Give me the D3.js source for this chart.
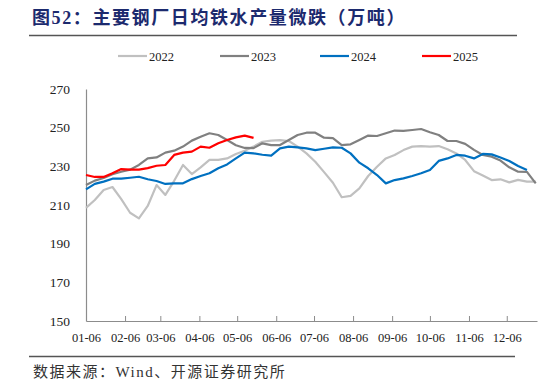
<!DOCTYPE html>
<html>
<head>
<meta charset="utf-8">
<script src="https://cdn.jsdelivr.net/npm/d3@7"></script>
<style>
  body { margin: 0; background: #fff; }
  .chart svg { display: block; }
</style>
</head>
<body>
<div class="chart"></div>
<script>
// weekly data, first week 01-06
var years = ["2022", "2023", "2024", "2025"];
var colors = ["#c0c0c0", "#808080", "#0070c0", "#ff0000"];

var v2022 = [208.5, 212.6, 217.8, 219.3, 213.0, 206.0, 203.1, 209.5, 220.3, 215.2,
  222.5, 230.7, 226.0, 229.5, 233.3, 233.3, 234.1, 236.4, 238.1, 240.2,
  242.7, 243.3, 243.6, 243.1, 240.2, 236.7, 232.4, 227.0, 221.5, 214.0,
  214.7, 218.6, 225.0, 229.8, 234.1, 235.9, 238.4, 240.2, 240.5, 240.2,
  240.5, 238.8, 236.7, 233.3, 227.5, 225.3, 222.9, 223.3, 221.7, 223.0,
  222.1, 222.1];
var v2023 = [220.3, 222.6, 224.0, 225.9, 227.2, 228.3, 230.7, 234.1, 234.6, 237.1,
  238.1, 240.2, 243.3, 245.3, 247.1, 246.2, 243.6, 240.9, 239.5, 239.4,
  241.9, 241.0, 241.0, 243.6, 246.2, 247.4, 247.4, 244.8, 244.6, 241.0,
  241.4, 243.6, 245.9, 245.7, 247.1, 248.5, 248.3, 248.8, 249.3, 247.6,
  246.2, 243.1, 243.1, 241.6, 238.5, 235.9, 235.0, 233.0, 229.5, 227.2,
  227.1, 221.2];
var v2024 = [218.1, 220.9, 222.1, 223.6, 223.6, 224.1, 224.6, 223.3, 222.4, 220.9,
  221.2, 221.2, 223.4, 225.0, 226.4, 229.0, 231.0, 234.1, 237.1, 236.7,
  236.0, 235.5, 239.3, 240.2, 239.8, 239.3, 238.4, 239.1, 239.8, 239.6,
  236.7, 231.9, 229.0, 225.5, 221.2, 222.9, 223.8, 225.0, 226.4, 228.1,
  232.8, 234.1, 235.9, 235.5, 234.1, 236.4, 236.2, 234.6, 232.8, 230.2,
  228.1];
var v2025 = [225.5, 224.5, 224.5, 226.4, 228.6, 228.3, 228.3, 229.1, 230.3, 230.7,
  235.9, 237.1, 237.6, 240.2, 239.6, 241.9, 243.6, 245.0, 245.9, 244.7];

var monthTicks = ["01-06", "02-06", "03-06", "04-06", "05-06", "06-06",
  "07-06", "08-06", "09-06", "10-06", "11-06", "12-06"];
var yTicks = [150, 170, 190, 210, 230, 250, 270];

var svgWidth = 546;
var svgHeight = 384;

var margin = { top: 89, right: 9, bottom: 63, left: 86 };
var width = svgWidth - margin.left - margin.right;
var height = svgHeight - margin.top - margin.bottom;

var svg = d3.select(".chart")
  .append("svg")
  .attr("width", svgWidth)
  .attr("height", svgHeight);

// title + rules
svg.append("text")
  .attr("x", 32)
  .attr("y", 24)
  .attr("font-family", "'Liberation Serif', 'Noto Sans CJK SC', serif")
  .attr("font-weight", "bold")
  .attr("font-size", "18px")
  .attr("letter-spacing", "1.6px")
  .attr("fill", "#1c2a6e")
  .text("图52：主要钢厂日均铁水产量微跌（万吨）");

svg.append("line")
  .attr("x1", 29).attr("x2", 517)
  .attr("y1", 35.5).attr("y2", 35.5)
  .attr("stroke", "#555").attr("stroke-width", 1.3);

svg.append("line")
  .attr("x1", 29).attr("x2", 515)
  .attr("y1", 356.5).attr("y2", 356.5)
  .attr("stroke", "#555").attr("stroke-width", 1.3);

svg.append("text")
  .attr("x", 33)
  .attr("y", 377)
  .attr("font-family", "'Liberation Serif', 'Noto Sans CJK SC', serif")
  .attr("font-size", "15px")
  .attr("letter-spacing", "1.5px")
  .attr("fill", "#333")
  .text("数据来源：Wind、开源证券研究所");

var chartGroup = svg.append("g")
  .attr("transform", `translate(${margin.left}, ${margin.top})`);

var parse = d3.timeParse("%Y-%m-%d");
var start = parse("2023-01-06");

var xScale = d3.scaleTime()
  .domain([start, parse("2023-12-30")])
  .range([0, width]);

var yScale = d3.scaleLinear()
  .domain([150, 270])
  .range([height, 0]);

var tickDates = monthTicks.map(m => parse("2023-" + m));

var bottomAxis = d3.axisBottom(xScale)
  .tickValues(tickDates)
  .tickFormat(d3.timeFormat("%m-%d"))
  .tickSizeInner(-5)
  .tickSizeOuter(0)
  .tickPadding(12);

var leftAxis = d3.axisLeft(yScale)
  .tickValues(yTicks)
  .tickSize(0)
  .tickPadding(16);

var xg = chartGroup.append("g")
  .attr("transform", `translate(0,${height})`)
  .call(bottomAxis);

var yg = chartGroup.append("g")
  .call(leftAxis);

[xg, yg].forEach(function (g) {
  g.select(".domain").attr("stroke", "#8c8c8c").attr("stroke-width", 1.2);
  g.selectAll(".tick line").attr("stroke", "#8c8c8c");
  g.selectAll("text")
    .attr("font-family", "'Liberation Serif', 'Times New Roman', serif")
    .attr("fill", "#222");
});
xg.selectAll("text").attr("font-size", "12.5px");
yg.selectAll("text").attr("font-size", "13.5px");

// lines
var series = [v2022, v2023, v2024, v2025];
var line = d3.line()
  .x((d, i) => xScale(d3.timeDay.offset(start, i * 7)))
  .y(d => yScale(d));

series.forEach(function (vals, k) {
  chartGroup.append("path")
    .datum(vals)
    .attr("fill", "none")
    .attr("stroke", colors[k])
    .attr("stroke-width", 2.2)
    .attr("stroke-linejoin", "round")
    .attr("d", line);
});

// legend
var legendX = [118, 220, 320, 422];
var legend = svg.append("g");
years.forEach(function (y, k) {
  legend.append("line")
    .attr("x1", legendX[k]).attr("x2", legendX[k] + 29)
    .attr("y1", 56).attr("y2", 56)
    .attr("stroke", colors[k]).attr("stroke-width", 2.2);
  legend.append("text")
    .attr("x", legendX[k] + 31)
    .attr("y", 60.5)
    .attr("font-family", "'Liberation Serif', 'Times New Roman', serif")
    .attr("font-size", "12.5px")
    .attr("fill", "#222")
    .text(y);
});
</script>
</body>
</html>
